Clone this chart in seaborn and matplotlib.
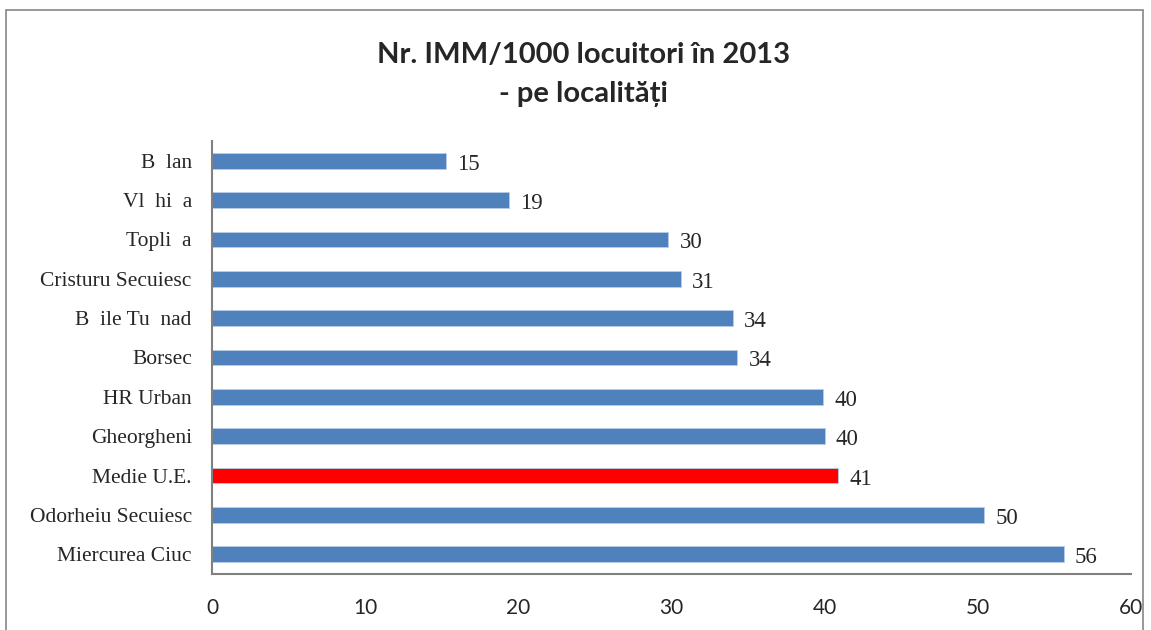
import numpy as np
import pandas as pd
import matplotlib
matplotlib.use("Agg")
import matplotlib.pyplot as plt
import seaborn as sns
from matplotlib.patches import Rectangle

localitati = ["B  lan", "Vl  hi  a", "Topli  a", "Cristuru Secuiesc", "B  ile Tu  nad",
              "Borsec", "HR Urban", "Gheorgheni", "Medie U.E.", "Odorheiu Secuiesc",
              "Miercurea Ciuc"]
imm_1000 = [15.3, 19.4, 29.8, 30.6, 34.0, 34.3, 39.9, 40.0, 40.9, 50.4, 55.6]
ticks_x = [0, 10, 20, 30, 40, 50, 60]

blue = "#4f81bd"
red = "#ff0000"
culori = [red if n == "Medie U.E." else blue for n in localitati]

df = pd.DataFrame({"loc": localitati, "val": imm_1000})

sns.set_style("white")
fig = plt.figure(figsize=(11.51, 6.3), dpi=100)
ax = fig.add_axes([212/1151, 1-574/630, (1131-212)/1151, (574-141)/630])

sns.barplot(data=df, y="loc", x="val", hue="loc", palette=culori, order=localitati,
            hue_order=localitati, legend=False, width=0.4, saturation=1,
            edgecolor="#b9cde5", linewidth=0.6, ax=ax)

for c in ax.containers:
    for t in ax.bar_label(c, fmt="%.0f", padding=8, fontsize=16.5, family="Liberation Serif"):
        # Excel places the value a little below the bar centre (offset points)
        t.set_y(t.get_position()[1] - 2.5)

ax.set_xlim(0, 60)
ax.set_xticks(ticks_x)
ax.set_xlabel("")
ax.set_ylabel("")
ax.tick_params(axis="both", length=0)
ax.tick_params(axis="x", pad=17, labelsize=15)
ax.tick_params(axis="y", pad=14.5, labelsize=15.5)
for lab in ax.get_xticklabels():
    lab.set_family(["Lato", "DejaVu Sans"])
for lab in ax.get_yticklabels():
    lab.set_family("Liberation Serif")

sns.despine(ax=ax)
for s in ["left", "bottom"]:
    ax.spines[s].set_color("#808080")
    ax.spines[s].set_linewidth(1.5)

fig.text(0.507, 0.882, "Nr. IMM/1000 locuitori în 2013\n- pe localități", ha="center",
         va="center", fontsize=21, fontweight="bold", family=["Lato", "DejaVu Sans"],
         linespacing=1.65)

fig.patches.append(Rectangle((6/1151, -0.01), (1143-6)/1151, 1.002-5/630,
                             transform=fig.transFigure, fill=False,
                             edgecolor="#868686", linewidth=1.2))

fig.savefig("out.png", dpi=100)
